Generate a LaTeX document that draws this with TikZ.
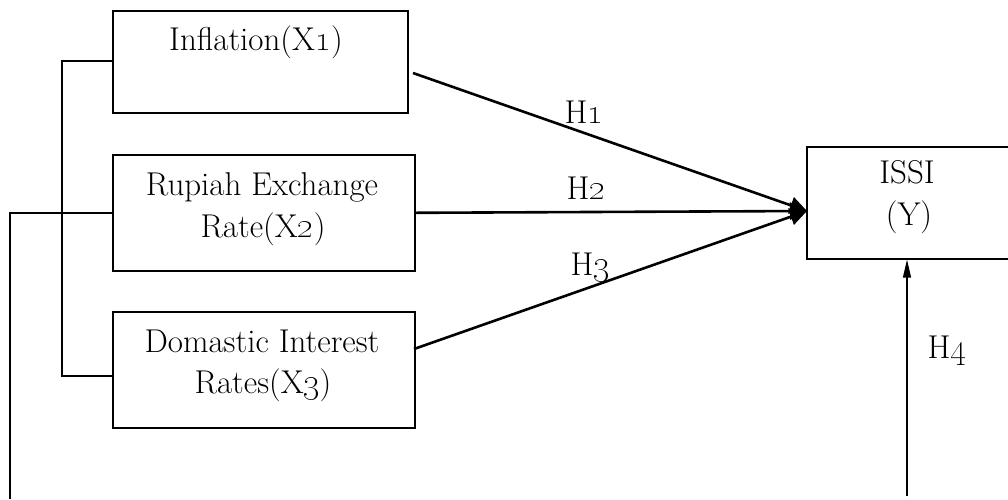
\documentclass[tikz,border=0pt]{standalone}
\usetikzlibrary{arrows.meta}
\begin{document}
\begin{tikzpicture}[x=1pt,y=-1pt,
  box/.style={draw,line width=1.6pt,inner sep=0pt,anchor=north west},
  txt/.style={font=\fontsize{33}{38}\selectfont,inner sep=0pt,anchor=base},
  link/.style={line width=1.8pt},
  path/.style={line width=2.6pt,-{Triangle[length=17pt,width=17pt]}},
  thin/.style={line width=1.3pt,-{Triangle[length=18pt,width=8pt]}}]
\clip (0,0) rectangle (1008,499);
\fill[white] (0,0) rectangle (1008,499);

% variable boxes
\node[box,minimum width=295pt,minimum height=102pt] (b1) at (112,10) {};
\node[box,minimum width=302pt,minimum height=116pt] (b2) at (112,154) {};
\node[box,minimum width=302pt,minimum height=116pt] (b3) at (112,311) {};
\node[box,minimum width=260pt,minimum height=112pt] (y) at (806,146) {};

% box texts
\node[txt] (t1) at (256,50) {Inflation(X\oldstylenums{1})};
\node[txt] (t2a) at (262,195) {Rupiah Exchange};
\node[txt] (t2b) at (263,237) {Rate(X\oldstylenums{2})};
\node[txt] (t3a) at (262,352) {Domastic Interest};
\node[txt] (t3b) at (263,393) {Rates(X\oldstylenums{3})};
\node[txt] (ty1) at (907,183) {ISSI};
\node[txt] (ty2) at (909,225) {(Y)};

% bracket joining the three independent variables
\coordinate (k1) at (62,61);
\coordinate (k3) at (62,376);
\coordinate (k0) at (10,499);
\draw[link] (b1.west |- k1) -- (k1) -- (k3) -- (b3.west |- k3);
\draw[link] (k0) |- (b2.west);

% hypothesis paths
\coordinate (s1) at (413,73);
\coordinate (s3) at (414,349);
\coordinate (tip) at (807,211);
\draw[path] (s1) -- (tip);
\draw[path] (b2.east) -- (tip);
\draw[path] (s3) -- (tip);
\coordinate (s4) at (907,496);
\draw[thin] (s4) -- (y.south west -| s4);

% hypothesis labels
\node[txt] (h1) at (584,123) {H\oldstylenums{1}};
\node[txt] (h2) at (586,199) {H\oldstylenums{2}};
\node[txt] (h3) at (590,275) {H\oldstylenums{3}};
\node[txt] (h4) at (947,358) {H\oldstylenums{4}};
\end{tikzpicture}
\end{document}
